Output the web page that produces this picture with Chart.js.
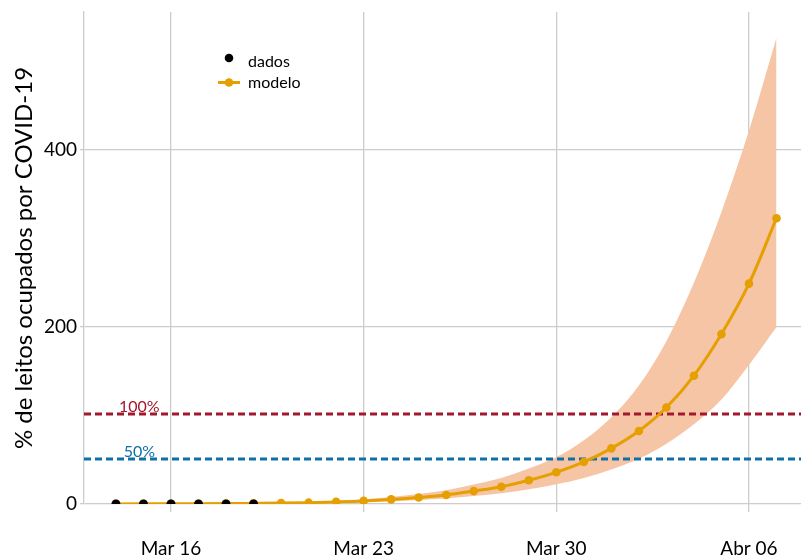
<!DOCTYPE html>
<html><head><meta charset="utf-8">
<script src="https://cdn.jsdelivr.net/npm/chart.js@4"></script>
<style>html,body{margin:0;padding:0;background:#fff}#wrap{width:801px;height:557px}</style>
</head><body><div id="wrap"><canvas id="c" width="801" height="557"></canvas></div>
<script>
// Days of March (Apr 1 = 32)
const modelDays = [14,15,16,17,18,19,20,21,22,23,24,25,26,27,28,29,30,31,32,33,34,35,36,37,38];
const modelValues = [0.1,0.15,0.2,0.3,0.45,0.7,1.0,1.5,2.4,3.5,5.2,7.4,10.2,14.6,19.5,26.8,35.8,47.5,62.9,82.5,109,145,192,249,323];
const lowerValues = [0.1,0.1,0.15,0.2,0.3,0.45,0.65,0.95,1.5,2.2,3.2,4.6,6.3,9.0,12.1,16.6,22.3,29.5,39,51,68,90,118,157,200];
const upperValues = [0.1,0.2,0.3,0.45,0.7,1.0,1.5,2.3,3.6,5.3,7.8,11.2,15.5,22,29.5,40,53,72,98,134,184,250,330,422,527];
const dataDays = [14,15,16,17,18,19];
const dataValues = [0,0,0,0,0,0];
const refValues = [101.7, 50.8];
const refLabels = ['100%', '50%'];
const refColors = ['#a3182c', '#0f70a8'];
const xTickValues = [16,23,30,37];
const xTickLabels = ['Mar 16','Mar 23','Mar 30','Abr 06'];
const yTickValues = [0,200,400];

const X_MIN = 12.84, X_MAX = 38.89;
const FONT = 'Lato, "Open Sans", sans-serif';
const pts = (xs, ys) => xs.map((x, i) => ({x: x, y: ys[i]}));

const widen = {
  id: 'widen',
  afterLayout(chart) {
    const W = chart.width;
    const ca = chart.chartArea;
    ca.right = W; ca.width = W - ca.left;
    const xs = chart.scales.x;
    xs.right = W; xs.width = W - xs.left; xs.configure();
  }
};

const overlay = {
  id: 'overlay',
  afterDatasetsDraw(chart) {
    const ctx = chart.ctx, xs = chart.scales.x, ys = chart.scales.y;
    ctx.save();
    ctx.font = '16px ' + FONT;
    ctx.textAlign = 'center';
    ctx.textBaseline = 'alphabetic';
    refValues.forEach((v, i) => {
      ctx.fillStyle = refColors[i];
      ctx.fillText(refLabels[i], xs.getPixelForValue(14.85), ys.getPixelForValue(v) - 2);
    });
    // legend
    ctx.fillStyle = '#000';
    ctx.beginPath(); ctx.arc(229, 58, 4.3, 0, Math.PI * 2); ctx.fill();
    ctx.strokeStyle = '#E69F00'; ctx.lineWidth = 3;
    ctx.beginPath(); ctx.moveTo(218, 82.5); ctx.lineTo(240, 82.5); ctx.stroke();
    ctx.fillStyle = '#E69F00';
    ctx.beginPath(); ctx.arc(229, 82.5, 4.3, 0, Math.PI * 2); ctx.fill();
    ctx.fillStyle = '#000';
    ctx.textAlign = 'left'; ctx.textBaseline = 'middle';
    ctx.fillText('dados', 248, 62);
    ctx.fillText('modelo', 248, 83);
    ctx.restore();
  }
};

new Chart(document.getElementById('c'), {
  type: 'line',
  data: {
    datasets: [
      { label: 'lower', data: pts(modelDays, lowerValues), borderWidth: 0, pointRadius: 0, fill: false,
        cubicInterpolationMode: 'monotone', order: 6, borderColor: 'rgba(0,0,0,0)' },
      { label: 'upper', data: pts(modelDays, upperValues), borderWidth: 0, pointRadius: 0, fill: 0,
        backgroundColor: '#f5c5a6', cubicInterpolationMode: 'monotone', order: 5, borderColor: 'rgba(0,0,0,0)' },
      { label: '100%', data: [{x: X_MIN, y: refValues[0]}, {x: X_MAX, y: refValues[0]}], borderColor: refColors[0],
        borderWidth: 3, borderDash: [7, 4], pointRadius: 0, fill: false, order: 3 },
      { label: '50%', data: [{x: X_MIN, y: refValues[1]}, {x: X_MAX, y: refValues[1]}], borderColor: refColors[1],
        borderWidth: 3, borderDash: [7, 4], pointRadius: 0, fill: false, order: 3 },
      { label: 'modelo', data: pts(modelDays, modelValues), borderColor: '#E69F00', backgroundColor: '#E69F00',
        borderWidth: 3, pointRadius: 4.3, pointBorderWidth: 0, cubicInterpolationMode: 'monotone', fill: false, order: 1 },
      { label: 'dados', data: pts(dataDays, dataValues), showLine: false, backgroundColor: '#000', borderColor: '#000',
        pointRadius: 4.5, pointBorderWidth: 0, fill: false, order: 0 }
    ]
  },
  options: {
    responsive: false, animation: false, devicePixelRatio: 1,
    layout: { padding: { top: 12, right: 0, left: 0, bottom: 0 } },
    plugins: { legend: { display: false }, tooltip: { enabled: false } },
    scales: {
      x: {
        type: 'linear', min: X_MIN, max: X_MAX,
        afterBuildTicks: s => { s.ticks = xTickValues.map(v => ({ value: v })); },
        afterFit: s => { s.height = 53; s.paddingLeft = 0; s.paddingRight = 0; },
        ticks: { callback: v => xTickLabels[xTickValues.indexOf(v)], font: { family: FONT, size: 19 }, color: '#000', padding: 25, maxRotation: 0, autoSkip: false },
        grid: { color: '#cccccc', lineWidth: 1.3, tickLength: 8 },
        border: { display: false }
      },
      y: {
        min: 0, max: 556,
        afterBuildTicks: s => { s.ticks = yTickValues.map(v => ({ value: v })); },
        afterFit: s => { s.width = 84; s.paddingTop = 0; s.paddingBottom = 0; },
        ticks: { font: { family: FONT, size: 19 }, color: '#000', padding: 3 },
        grid: { color: '#cccccc', lineWidth: 1.3, tickLength: 4 },
        border: { display: true, color: '#cccccc', width: 1.3 },
        title: { display: true, text: '% de leitos ocupados por COVID-19', font: { family: FONT, size: 24 }, color: '#000', padding: { top: 10, bottom: 0 } }
      }
    }
  },
  plugins: [widen, overlay]
});
</script></body></html>
